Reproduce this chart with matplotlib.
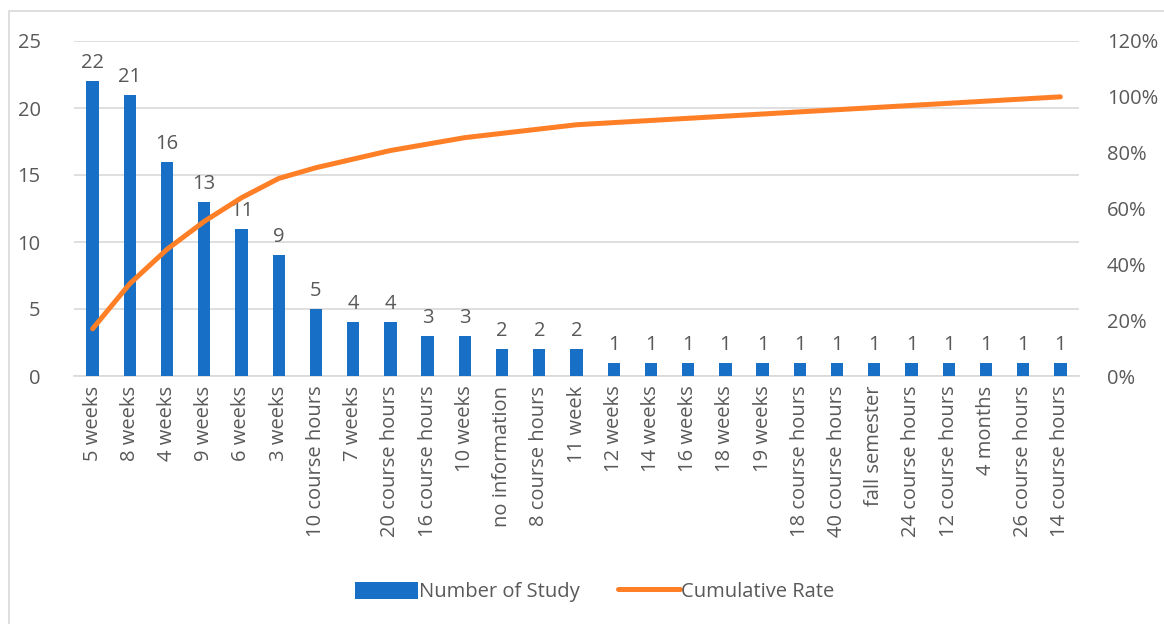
import matplotlib.pyplot as plt
from matplotlib.patches import Rectangle
from matplotlib.ticker import FuncFormatter, MultipleLocator

# Study durations and how many studies used each
durations = ["5 weeks", "8 weeks", "4 weeks", "9 weeks", "6 weeks", "3 weeks",
             "10 course hours", "7 weeks", "20 course hours", "16 course hours",
             "10 weeks", "no information", "8 course hours", "11 week",
             "12 weeks", "14 weeks", "16 weeks", "18 weeks", "19 weeks",
             "18 course hours", "40 course hours", "fall semester",
             "24 course hours", "12 course hours", "4 months",
             "26 course hours", "14 course hours"]
counts = [22, 21, 16, 13, 11, 9, 5, 4, 4, 3, 3, 2, 2, 2,
          1, 1, 1, 1, 1, 1, 1, 1, 1, 1, 1, 1, 1]

# cumulative share of studies
total = sum(counts)
cum_rate = []
running = 0
for c in counts:
    running += c
    cum_rate.append(running / total)

plt.rcParams["font.family"] = ["Open Sans", "DejaVu Sans"]
fs = 14.5
text_col = "#595959"
grid_col = "#D9D9D9"
blue = "#1770C6"
orange = "#FF7F27"

fig = plt.figure(figsize=(11.64, 6.24), dpi=100)
ax = fig.add_axes([74 / 1164, 1 - 376 / 624, 1005 / 1164, 335 / 624])

# outer chart border
fig.patches.append(Rectangle((9 / 1164, -0.01), 1.1, 1 - 11 / 624 + 0.01,
                             transform=fig.transFigure, fill=False,
                             edgecolor=grid_col, linewidth=1.2))

x = list(range(len(durations)))
bars = ax.bar(x, counts, width=0.33, color=blue, label="Number of Study", zorder=3)
for xi, c in zip(x, counts):
    ax.text(xi, c + 0.6, str(c), ha="center", va="bottom", fontsize=fs, color=text_col)

ax.set_xlim(-0.5, len(durations) - 0.5)
ax.set_ylim(0, 25)
ax.yaxis.set_major_locator(MultipleLocator(5))
ax.grid(axis="y", color=grid_col, linewidth=1.2, zorder=0)
ax.set_axisbelow(True)
for s in ["top", "right", "left"]:
    ax.spines[s].set_visible(False)
ax.spines["bottom"].set_color(grid_col)
ax.spines["bottom"].set_linewidth(1.2)
ax.set_xticks(x)
ax.set_xticklabels(durations, rotation=90, fontsize=fs, color=text_col)
ax.tick_params(axis="x", length=0, pad=7)
ax.tick_params(axis="y", length=0, pad=24, labelsize=fs, labelcolor=text_col)

# cumulative percentage on the secondary axis
ax2 = ax.twinx()
line, = ax2.plot(x, cum_rate, color=orange, linewidth=3.6,
                 solid_capstyle="round", label="Cumulative Rate", zorder=4)
ax2.set_ylim(0, 1.2)
ax2.yaxis.set_major_locator(MultipleLocator(0.2))
ax2.yaxis.set_major_formatter(FuncFormatter(lambda v, p: f"{v * 100:.0f}%"))
ax2.tick_params(axis="y", length=0, pad=20, labelsize=fs, labelcolor=text_col)
for s in ax2.spines.values():
    s.set_visible(False)

fig.legend([bars, line], ["Number of Study", "Cumulative Rate"],
           loc="center", bbox_to_anchor=(595 / 1164, 1 - 592 / 624), ncol=2,
           frameon=False, fontsize=fs, labelcolor=text_col,
           handlelength=3.1, handleheight=0.9, handletextpad=0.05, columnspacing=1.9)

fig.savefig("out.png", dpi=100)
